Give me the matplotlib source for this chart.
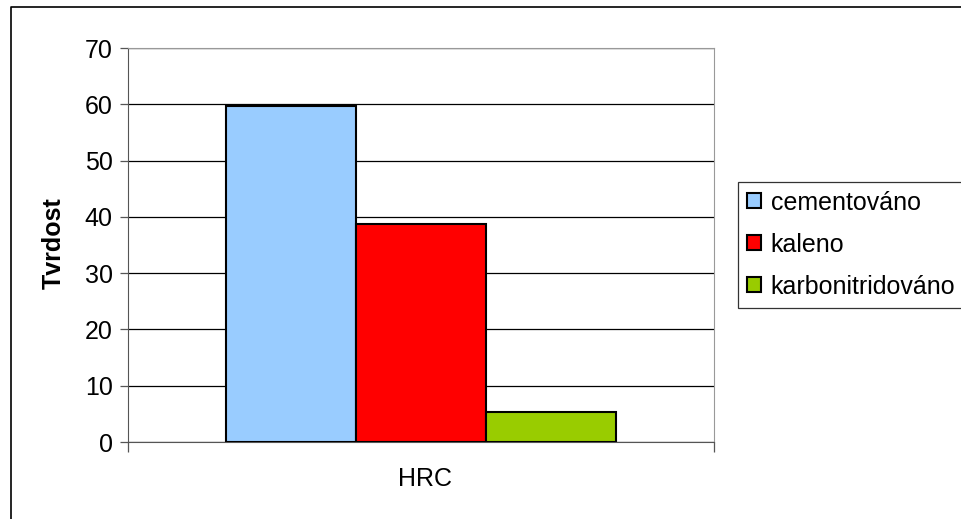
import numpy as np
import matplotlib.pyplot as plt
from matplotlib.lines import Line2D

# chart data
categories = ["HRC"]
series_names = ["cementováno", "kaleno", "karbonitridováno"]
series_values = [59.7, 38.7, 5.3]
series_colors = ["#99ccff", "#ff0000", "#99cc00"]
y_ticks = [0, 10, 20, 30, 40, 50, 60, 70]

plt.rcParams['font.family'] = ['Liberation Sans', 'DejaVu Sans']
FS = 18

W, H = 961, 519
fig = plt.figure(figsize=(W / 100, H / 100), dpi=100)
ax = fig.add_axes([128 / W, 1 - 442 / H, (714 - 128) / W, (442 - 48) / H])

# Excel style clustered columns, gap width 150%
n = len(series_names)
bar_w = 1.0 / (n + 1.5)
x = np.arange(len(categories))
for i, (name, val, col) in enumerate(zip(series_names, series_values, series_colors)):
    offset = (i - (n - 1) / 2) * bar_w
    ax.bar(x + offset, [val], width=bar_w, color=col, edgecolor="black",
           linewidth=1.5, label=name, zorder=3)

ax.set_xlim(-0.5, 0.5)
ax.set_ylim(0, 70)
ax.set_yticks(y_ticks)
ax.yaxis.grid(True, color="black", linewidth=0.9, zorder=0)
ax.tick_params(axis="y", length=6, width=0.9, color="#555555", labelsize=FS, pad=5)

# category boundary ticks only, label placed below
ax.set_xticks([-0.5, 0.5])
ax.set_xticklabels(["", ""])
ax.tick_params(axis="x", length=7, width=0.9, color="#555555", direction="out")
fig.text(425 / W, 1 - 479 / H, categories[0], ha="center", va="center", fontsize=FS)

for side in ("top", "right"):
    ax.spines[side].set_color("#999999")
ax.spines["left"].set_color("#555555")
ax.spines["bottom"].set_color("#555555")

fig.text(54 / W, 1 - 243 / H, "Tvrdost", rotation=90, ha="center", va="center",
         fontsize=FS, fontweight="bold")

leg = ax.legend(loc="upper left", bbox_to_anchor=(738 / W, 1 - 182 / H),
                bbox_transform=fig.transFigure, fontsize=FS, frameon=True,
                fancybox=False, edgecolor="black", handlelength=0.55,
                handleheight=0.55, handletextpad=0.4, labelspacing=0.72,
                borderpad=0.35, borderaxespad=0)
leg.get_frame().set_linewidth(0.9)

# outer chart border (only left and top edges visible in the crop)
fig.lines.append(Line2D([10.5 / W, 10.5 / W, 1.0], [0.0, 1 - 6.5 / H, 1 - 6.5 / H],
                        transform=fig.transFigure, color="black", linewidth=1.2))

fig.savefig("out.png", dpi=100)
